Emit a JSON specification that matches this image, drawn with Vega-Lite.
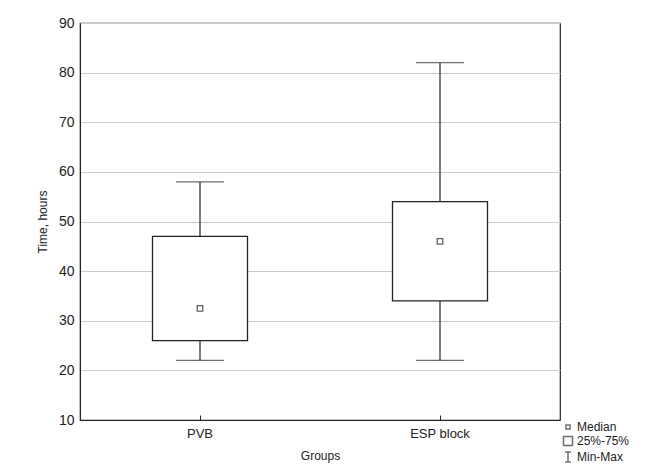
{
  "$schema": "https://vega.github.io/schema/vega-lite/v6.json",
  "width": 480,
  "height": 397,
  "autosize": {"type": "none"},
  "padding": {"left": 80, "top": 23, "right": 98, "bottom": 44},
  "background": "white",
  "config": {
    "font": "Liberation Sans",
    "view": {"stroke": "#222222", "strokeWidth": 1.2},
    "axis": {
      "labelFont": "Liberation Sans",
      "titleFont": "Liberation Sans",
      "labelColor": "#222222",
      "titleColor": "#222222",
      "labelFontSize": 13,
      "titleFontSize": 12,
      "titleFontWeight": "normal",
      "domainColor": "#222222",
      "tickColor": "#222222"
    }
  },
  "data": {
    "values": [
      {"group": "PVB", "min": 22, "q1": 26, "median": 32.5, "q3": 47, "max": 58},
      {"group": "ESP block", "min": 22, "q1": 34, "median": 46, "q3": 54, "max": 82}
    ]
  },
  "layer": [
    {
      "mark": {"type": "rule", "color": "#333333", "strokeWidth": 1.3},
      "encoding": {
        "x": {
          "field": "group", "type": "nominal", "sort": ["PVB", "ESP block"],
          "scale": {"paddingInner": 0, "paddingOuter": 0},
          "axis": {"title": "Groups", "labelAngle": 0, "ticks": true, "tickSize": -5, "labelPadding": 12, "titlePadding": 10, "grid": false}
        },
        "y": {
          "field": "min", "type": "quantitative",
          "scale": {"domain": [10, 90], "nice": false, "zero": false},
          "axis": {"title": "Time, hours", "values": [10, 20, 30, 40, 50, 60, 70, 80, 90], "grid": true, "gridColor": "#cccccc", "gridWidth": 1, "ticks": false, "labelPadding": 6, "titlePadding": 9, "labelFontSize": 14}
        },
        "y2": {"field": "max"}
      }
    },
    {
      "mark": {"type": "tick", "orient": "horizontal", "size": 48, "thickness": 1.3, "color": "#333333"},
      "encoding": {
        "x": {"field": "group", "type": "nominal", "sort": ["PVB", "ESP block"]},
        "y": {"field": "min", "type": "quantitative"}
      }
    },
    {
      "mark": {"type": "tick", "orient": "horizontal", "size": 48, "thickness": 1.3, "color": "#333333"},
      "encoding": {
        "x": {"field": "group", "type": "nominal", "sort": ["PVB", "ESP block"]},
        "y": {"field": "max", "type": "quantitative"}
      }
    },
    {
      "mark": {"type": "bar", "size": 95, "fill": "white", "stroke": "#222222", "strokeWidth": 1.3},
      "encoding": {
        "x": {"field": "group", "type": "nominal", "sort": ["PVB", "ESP block"]},
        "y": {"field": "q1", "type": "quantitative"},
        "y2": {"field": "q3"}
      }
    },
    {
      "mark": {"type": "point", "shape": "square", "size": 30, "filled": true, "fill": "white", "stroke": "#222222", "strokeWidth": 1.3},
      "encoding": {
        "x": {"field": "group", "type": "nominal", "sort": ["PVB", "ESP block"]},
        "y": {"field": "median", "type": "quantitative"}
      }
    },
    {
      "data": {"values": [{"item": "Median"}, {"item": "25%-75%"}, {"item": "Min-Max"}]},
      "mark": {"type": "point", "size": 100, "filled": false, "stroke": "#333333", "strokeOpacity": 0},
      "encoding": {
        "shape": {
          "field": "item", "type": "nominal",
          "scale": {
            "domain": ["Median", "25%-75%", "Min-Max"],
            "range": ["M-0.4,-0.4H0.4V0.4H-0.4Z", "M-0.9,-0.9H0.9V0.9H-0.9Z", "M-0.6,-1H0.6M0,-1V1M-0.6,1H0.6"]
          },
          "legend": {
            "orient": "none", "legendX": 482, "legendY": 398, "title": null,
            "labelFontSize": 12, "labelFont": "Liberation Sans", "labelColor": "#222222",
            "symbolSize": 100, "rowPadding": 0, "labelOffset": 3,
            "encode": {"symbols": {"update": {"strokeOpacity": {"value": 1}, "opacity": {"value": 1}}}}
          }
        }
      }
    }
  ]
}
